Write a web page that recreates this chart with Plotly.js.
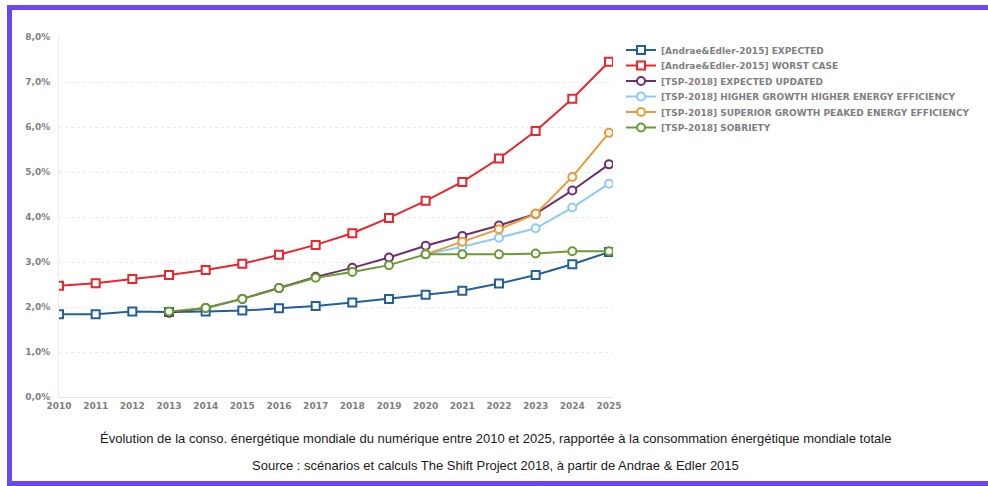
<!DOCTYPE html>
<html>
<head>
<meta charset="utf-8">
<script src="https://cdn.plot.ly/plotly-3.0.1.min.js"></script>
<style>
  html, body { margin: 0; padding: 0; background: #ffffff; }
  #chart { position: absolute; left: 0; top: 0; width: 988px; height: 486px; }
  .frame { position: absolute; background: #6b46f5; pointer-events: none; }
</style>
</head>
<body>
<div id="chart"></div>
<div class="frame" style="left:7px; top:5px; width:981px; height:5px;"></div>
<div class="frame" style="left:7px; top:5px; width:5px; height:481px;"></div>
<div class="frame" style="left:7px; top:481px; width:981px; height:5px;"></div>
<script>
// ---- Data (values in % of total world energy consumption) ----
const years = [2010, 2011, 2012, 2013, 2014, 2015, 2016, 2017, 2018, 2019, 2020, 2021, 2022, 2023, 2024, 2025];
const yearsFrom2013 = [2013, 2014, 2015, 2016, 2017, 2018, 2019, 2020, 2021, 2022, 2023, 2024, 2025];
const yearsFrom2020 = [2020, 2021, 2022, 2023, 2024, 2025];

const andraeExpected = [1.84, 1.84, 1.90, 1.89, 1.90, 1.92, 1.97, 2.02, 2.10, 2.18, 2.27, 2.36, 2.52, 2.71, 2.95, 3.22];
const andraeWorst = [2.47, 2.53, 2.62, 2.71, 2.82, 2.96, 3.16, 3.38, 3.64, 3.98, 4.36, 4.78, 5.30, 5.91, 6.63, 7.45];
const tspExpectedUpdated = [1.87, 1.98, 2.18, 2.42, 2.67, 2.87, 3.10, 3.36, 3.58, 3.81, 4.07, 4.59, 5.17];
const tspHigherGrowth = [3.17, 3.34, 3.54, 3.75, 4.21, 4.74];
const tspSuperiorGrowth = [3.17, 3.45, 3.73, 4.07, 4.89, 5.87];
const tspSobriety = [1.90, 1.98, 2.18, 2.42, 2.65, 2.78, 2.93, 3.17, 3.17, 3.17, 3.19, 3.24, 3.24];

const seriesNames = [
  "[Andrae&Edler-2015] EXPECTED",
  "[Andrae&Edler-2015] WORST CASE",
  "[TSP-2018] EXPECTED UPDATED",
  "[TSP-2018] HIGHER GROWTH HIGHER ENERGY EFFICIENCY",
  "[TSP-2018] SUPERIOR GROWTH PEAKED ENERGY EFFICIENCY",
  "[TSP-2018] SOBRIETY"
];
const yTickVals = [0, 1, 2, 3, 4, 5, 6, 7, 8];
const yTickText = ["0,0%", "1,0%", "2,0%", "3,0%", "4,0%", "5,0%", "6,0%", "7,0%", "8,0%"];
const captionLines = [
  "Évolution de la conso. énergétique mondiale du numérique entre 2010 et 2025, rapportée à la consommation énergétique mondiale totale",
  "Source : scénarios et calculs The Shift Project 2018, à partir de Andrae & Edler 2015"
];

// ---- Styles ----
const colors = ["#22609a", "#e8262b", "#6e2f6e", "#8ecbf2", "#ec9a36", "#6a9a32"];
const symbols = ["square", "square", "circle", "circle", "circle", "circle"];
const xs = [years, years, yearsFrom2013, yearsFrom2020, yearsFrom2020, yearsFrom2013];
const ys = [andraeExpected, andraeWorst, tspExpectedUpdated, tspHigherGrowth, tspSuperiorGrowth, tspSobriety];
const legendIds = ["legend", "legend2", "legend3", "legend4", "legend5", "legend6"];

const traces = ys.map((y, i) => ({
  type: "scatter",
  mode: "lines+markers",
  name: seriesNames[i],
  x: xs[i],
  y: y,
  legend: legendIds[i],
  line: { color: colors[i], width: 2 },
  marker: { symbol: symbols[i], size: 8, color: "#ffffff", line: { color: colors[i], width: 2 } },
  hoverinfo: "x+y+name"
}));

// plot area: x 59..613, y 37..397
const W = 988, H = 486, L = 59, R = 613, T = 37, B = 397;
const legendFont = { family: "DejaVu Sans", size: 9, color: "#7f7f7f", weight: "bold" };
const rowY = [50, 65.5, 81, 96.5, 112, 127.5];

const layout = {
  width: W, height: H,
  margin: { l: L, r: W - R, t: T, b: H - B, pad: 0 },
  paper_bgcolor: "#ffffff",
  plot_bgcolor: "#ffffff",
  showlegend: true,
  xaxis: {
    range: [2010, 2025.11],
    tickvals: years,
    ticktext: years.map(String),
    showgrid: false,
    zeroline: false,
    showline: true,
    linecolor: "#e6e6e6",
    linewidth: 1,
    ticks: "",
    tickfont: { family: "DejaVu Sans", size: 9, color: "#7f7f7f", weight: "bold" },
    fixedrange: true
  },
  yaxis: {
    range: [0, 8],
    tickvals: yTickVals,
    ticktext: yTickText,
    showgrid: true,
    gridcolor: "#ebebeb",
    griddash: "dot",
    gridwidth: 1,
    zeroline: false,
    showline: true,
    linecolor: "#ececec",
    linewidth: 1,
    ticks: "",
    ticklabelstandoff: 6,
    tickfont: { family: "DejaVu Sans", size: 9, color: "#7f7f7f", weight: "bold" },
    fixedrange: true
  },
  annotations: captionLines.map((t, i) => ({
    text: t,
    xref: "paper", yref: "paper",
    x: (495 - L) / (R - L),
    y: (B - [438, 465][i]) / (B - T),
    xanchor: "center", yanchor: "middle",
    showarrow: false,
    font: { family: "Liberation Sans, Arial, sans-serif", size: 13, color: "#1a1a1a" }
  }))
};

legendIds.forEach((id, i) => {
  layout[id] = {
    x: (621 - L) / (R - L),
    xanchor: "left",
    y: (B - rowY[i]) / (B - T),
    yanchor: "middle",
    bgcolor: "rgba(0,0,0,0)",
    borderwidth: 0,
    font: legendFont,
    itemclick: false,
    itemdoubleclick: false
  };
});

Plotly.newPlot("chart", traces, layout, { displayModeBar: false, staticPlot: true });
</script>
</body>
</html>
